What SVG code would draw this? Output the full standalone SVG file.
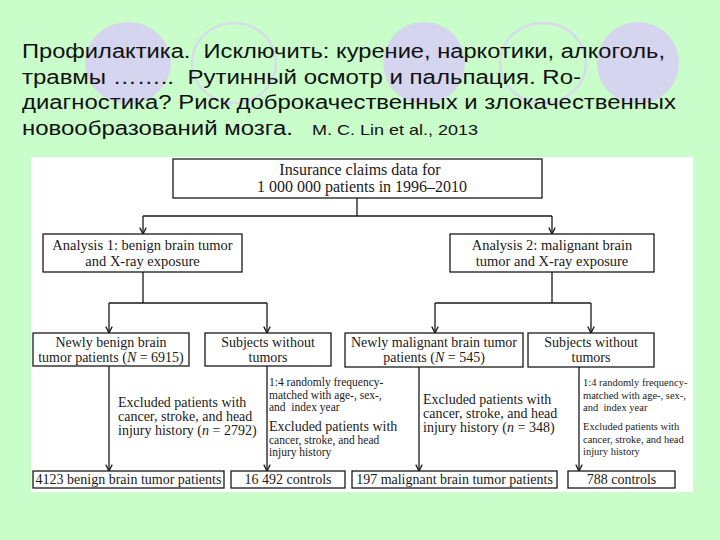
<svg xmlns="http://www.w3.org/2000/svg" width="720" height="540" viewBox="0 0 720 540">
<defs>
<style>
.bg{fill:#c9fdc9}
.dot{fill:#d5d5ef}
.ring{fill:none;stroke:#d6dcea;stroke-width:2.5}
.title{font-family:"Liberation Sans",Arial,sans-serif;font-size:20px;fill:#111;white-space:pre}
.cite{font-family:"Liberation Sans",Arial,sans-serif;font-size:15px;fill:#111}
.box{fill:#fff;stroke:#1a1a1a;stroke-width:1.3}
.t{font-family:"Liberation Serif","Times New Roman",serif;fill:#1a1a1a;text-anchor:middle}
.a{font-family:"Liberation Serif","Times New Roman",serif;fill:#1a1a1a;white-space:pre}
.ln{fill:none;stroke:#1a1a1a;stroke-width:1.3}
.arr{marker-end:url(#ah)}
</style>
<marker id="ah" viewBox="0 0 10 10" refX="9" refY="5" markerWidth="8" markerHeight="8" markerUnits="userSpaceOnUse" orient="auto">
<path d="M1,1 L9,5 L1,9" fill="none" stroke="#1a1a1a" stroke-width="1.6"/>
</marker>
</defs>
<rect class="bg" x="0" y="0" width="720" height="540"/>
<g id="decor">
<ellipse class="dot" cx="128" cy="63" rx="43" ry="41"/>
<ellipse class="ring" cx="234" cy="63" rx="42" ry="40"/>
<ellipse class="dot" cx="424" cy="63" rx="41" ry="41"/>
<ellipse class="ring" cx="543" cy="63" rx="43" ry="40"/>
<ellipse class="dot" cx="638" cy="63" rx="41" ry="41"/>
</g>
<g id="title">
<text class="title" x="22" y="58" textLength="643" lengthAdjust="spacingAndGlyphs" xml:space="preserve">Профилактика.  Исключить: курение, наркотики, алкоголь,</text>
<text class="title" x="22" y="84" textLength="559" lengthAdjust="spacingAndGlyphs" xml:space="preserve">травмы ……..  Рутинный осмотр и пальпация. Ro-</text>
<text class="title" x="22" y="109" textLength="654" lengthAdjust="spacingAndGlyphs">диагностика? Риск доброкачественных и злокачественных</text>
<text class="title" x="22" y="135" textLength="271" lengthAdjust="spacingAndGlyphs">новообразований мозга.</text>
<text class="cite" x="312" y="135" textLength="166" lengthAdjust="spacingAndGlyphs">M. C. Lin et al., 2013</text>
</g>
<rect id="panel" x="31" y="157" width="662" height="335" fill="#fff"/>
<g id="connectors">
<path class="ln" d="M357,198 V216 M143,216 H552"/>
<path class="ln arr" d="M143,216 V234"/>
<path class="ln arr" d="M552,216 V234"/>
<path class="ln" d="M143,272 V303 M109,303 H267"/>
<path class="ln arr" d="M109,303 V333"/>
<path class="ln arr" d="M267,303 V333"/>
<path class="ln" d="M552,272 V303 M435,303 H591"/>
<path class="ln arr" d="M435,303 V333"/>
<path class="ln arr" d="M591,303 V333"/>
<path class="ln arr" d="M109,366 V471"/>
<path class="ln arr" d="M267,366 V471"/>
<path class="ln arr" d="M419,367 V471"/>
<path class="ln arr" d="M579,367 V471"/>
</g>
<g id="n-insurance">
<rect class="box" x="173" y="159" width="369" height="39"/>
<text class="t" x="360" y="175" font-size="16">Insurance claims data for</text>
<text class="t" x="362" y="192" font-size="16">1 000 000 patients in 1996–2010</text>
</g>
<g id="n-analysis1">
<rect class="box" x="43" y="234" width="199" height="38"/>
<text class="t" x="142.5" y="250" font-size="14.5">Analysis 1: benign brain tumor</text>
<text class="t" x="142.5" y="266" font-size="14.5">and X-ray exposure</text>
</g>
<g id="n-analysis2">
<rect class="box" x="450" y="234" width="204" height="38"/>
<text class="t" x="552" y="250" font-size="14.5">Analysis 2: malignant brain</text>
<text class="t" x="552" y="266" font-size="14.5">tumor and X-ray exposure</text>
</g>
<g id="n-benign">
<rect class="box" x="33" y="333" width="156" height="33"/>
<text class="t" x="111" y="347" font-size="14">Newly benign brain</text>
<text class="t" x="111" y="362" font-size="14">tumor patients (<tspan font-style="italic">N</tspan> = 6915)</text>
</g>
<g id="n-subjects1">
<rect class="box" x="205" y="333" width="126" height="33"/>
<text class="t" x="268" y="347" font-size="14">Subjects without</text>
<text class="t" x="268" y="362" font-size="14">tumors</text>
</g>
<g id="n-malignant">
<rect class="box" x="345" y="333" width="178" height="34"/>
<text class="t" x="434" y="347" font-size="14">Newly malignant brain tumor</text>
<text class="t" x="434" y="362" font-size="14">patients (<tspan font-style="italic">N</tspan> = 545)</text>
</g>
<g id="n-subjects2">
<rect class="box" x="528" y="333" width="126" height="34"/>
<text class="t" x="591" y="347" font-size="14">Subjects without</text>
<text class="t" x="591" y="362" font-size="14">tumors</text>
</g>
<g id="n-excl1">
<text class="a" x="118" y="407" font-size="14">Excluded patients with</text>
<text class="a" x="118" y="421" font-size="14">cancer, stroke, and head</text>
<text class="a" x="118" y="435" font-size="14">injury history (<tspan font-style="italic">n</tspan> = 2792)</text>
</g>
<g id="n-match1">
<text class="a" x="269" y="386" font-size="11.5">1:4 randomly frequency-</text>
<text class="a" x="269" y="398.5" font-size="11.5">matched with age-, sex-,</text>
<text class="a" x="269" y="411" font-size="11.5" xml:space="preserve">and  index year</text>
<text class="a" x="269" y="431" font-size="14">Excluded patients with</text>
<text class="a" x="269" y="443.5" font-size="11.5">cancer, stroke, and head</text>
<text class="a" x="269" y="456" font-size="11.5">injury history</text>
</g>
<g id="n-excl2">
<text class="a" x="423" y="404" font-size="14">Excluded patients with</text>
<text class="a" x="423" y="418" font-size="14">cancer, stroke, and head</text>
<text class="a" x="423" y="432" font-size="14">injury history (<tspan font-style="italic">n</tspan> = 348)</text>
</g>
<g id="n-match2">
<text class="a" x="583" y="386" font-size="10.5">1:4 randomly frequency-</text>
<text class="a" x="583" y="398.5" font-size="10.5">matched with age-, sex-,</text>
<text class="a" x="583" y="411" font-size="10.5" xml:space="preserve">and  index year</text>
<text class="a" x="583" y="430" font-size="10.5">Excluded patients with</text>
<text class="a" x="583" y="442.5" font-size="10.5">cancer, stroke, and head</text>
<text class="a" x="583" y="455" font-size="10.5">injury history</text>
</g>
<g id="n-out-benign">
<rect class="box" x="33" y="471" width="191" height="17"/>
<text class="t" x="128.5" y="484" font-size="14">4123 benign brain tumor patients</text>
</g>
<g id="n-out-controls1">
<rect class="box" x="231" y="471" width="114" height="17"/>
<text class="t" x="288" y="484" font-size="14">16 492 controls</text>
</g>
<g id="n-out-malignant">
<rect class="box" x="352" y="471" width="205" height="17"/>
<text class="t" x="454.5" y="484" font-size="14">197 malignant brain tumor patients</text>
</g>
<g id="n-out-controls2">
<rect class="box" x="568" y="471" width="107" height="17"/>
<text class="t" x="621.5" y="484" font-size="14">788 controls</text>
</g>
</svg>
